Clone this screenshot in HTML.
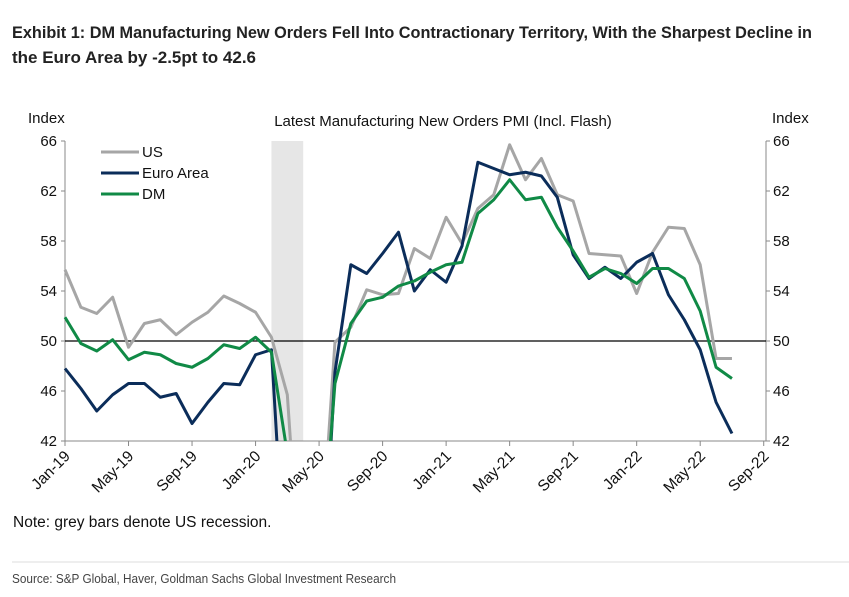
<!DOCTYPE html>
<html style="margin:0;overflow:hidden"><head><meta charset="utf-8"><style>
html,body{margin:0;padding:0;background:#fff;width:849px;height:597px;overflow:hidden}
svg{display:block}
text{font-family:"Liberation Sans",Arial,sans-serif}
</style></head><body>
<svg id="chart" width="849" height="597" xmlns="http://www.w3.org/2000/svg">
<text x="12" y="38" font-size="16.5" font-weight="bold" fill="#222" textLength="800" lengthAdjust="spacingAndGlyphs">Exhibit 1: DM Manufacturing New Orders Fell Into Contractionary Territory, With the Sharpest Decline in</text>
<text x="12" y="63" font-size="16.5" font-weight="bold" fill="#222" textLength="244" lengthAdjust="spacingAndGlyphs">the Euro Area by -2.5pt to 42.6</text>
<text x="443" y="126" font-size="15" text-anchor="middle" fill="#111">Latest Manufacturing New Orders PMI (Incl. Flash)</text>
<text x="28" y="123" font-size="15" fill="#111">Index</text>
<text x="772" y="123" font-size="15" fill="#111">Index</text>
<defs><clipPath id="plotclip"><rect x="60" y="130" width="720" height="311"/></clipPath></defs>
<g id="recess"></g>
<g id="axes"></g>
<g id="series" clip-path="url(#plotclip)"></g>
<g id="legend"></g>
<text x="13" y="527" font-size="15.5" fill="#111">Note: grey bars denote US recession.</text>
<line x1="12" y1="562" x2="849" y2="562" stroke="#ddd" stroke-width="1"/>
<text x="12" y="583" font-size="12.5" fill="#444" textLength="384" lengthAdjust="spacingAndGlyphs">Source: S&amp;P Global, Haver, Goldman Sachs Global Investment Research</text>
</svg>
<script>
const months = 43; // Jan-19 .. Jul-22
const xTickLabels = ["Jan-19","May-19","Sep-19","Jan-20","May-20","Sep-20","Jan-21","May-21","Sep-21","Jan-22","May-22","Sep-22"];
const yTicks = [42,46,50,54,58,62,66];
const usValues = [55.7,52.7,52.2,53.5,49.5,51.4,51.7,50.5,51.5,52.3,53.6,53.0,52.3,50.3,45.7,27.0,31.0,49.9,51.1,54.1,53.7,53.8,57.4,56.6,59.9,57.8,60.6,61.7,65.7,62.9,64.6,61.7,61.2,57.0,56.9,56.8,53.8,57.1,59.1,59.0,56.1,48.6,48.6];
const euroValues = [47.8,46.2,44.4,45.7,46.6,46.6,45.5,45.8,43.4,45.1,46.6,46.5,48.9,49.3,28.0,12.0,25.0,47.5,56.1,55.4,57.0,58.7,54.0,55.7,54.7,57.6,64.3,63.8,63.3,63.5,63.2,61.5,56.9,55.0,55.9,55.0,56.3,57.0,53.7,51.7,49.3,45.1,42.6];
const dmValues = [51.9,49.8,49.2,50.1,48.5,49.1,48.9,48.2,47.9,48.6,49.7,49.4,50.3,49.1,41.0,20.0,30.0,46.6,51.4,53.2,53.5,54.4,54.8,55.5,56.1,56.3,60.2,61.3,62.9,61.3,61.5,59.1,57.2,55.1,55.8,55.4,54.6,55.8,55.8,55.0,52.4,47.9,47.0];
const recession = [13, 15]; // month indices Feb-20 .. Apr-20

const NS="http://www.w3.org/2000/svg";
const X0=65, DX=15.88, Y42=441, PXU=12.5;
const xs = i => X0 + i*DX;
const ys = v => Y42 - (v-42)*PXU;
function mk(tag, attrs, parent){const e=document.createElementNS(NS,tag);for(const k in attrs)e.setAttribute(k,attrs[k]);parent.appendChild(e);return e;}

const rg=document.getElementById('recess');
const rb=mk('rect',{x:xs(recession[0]),y:141,width:xs(recession[1])-xs(recession[0]),height:300,fill:'#e6e6e6'},rg);



const ax=document.getElementById('axes');
let l=mk('line',{x1:X0,y1:141,x2:X0,y2:441,stroke:'#888','stroke-width':1},ax);


l=mk('line',{x1:766,y1:141,x2:766,y2:441,stroke:'#888','stroke-width':1},ax);


l=mk('line',{x1:X0,y1:441,x2:766,y2:441,stroke:'#888','stroke-width':1},ax);


l=mk('line',{x1:X0,y1:ys(50),x2:766,y2:ys(50),stroke:'#000','stroke-width':1.3},ax);


yTicks.forEach(v=>{
  const y=ys(v);
  mk('line',{x1:X0-4,y1:y,x2:X0,y2:y,stroke:'#888'},ax);
  mk('line',{x1:766,y1:y,x2:770,y2:y,stroke:'#888'},ax);
  let t=mk('text',{x:X0-8,y:y+5,'font-size':15,'text-anchor':'end',fill:'#111'},ax);t.textContent=v;
  
  
  t=mk('text',{x:773,y:y+5,'font-size':15,fill:'#111'},ax);t.textContent=v;
  
  
});
xTickLabels.forEach((s,k)=>{
  const x=xs(k*4);
  mk('line',{x1:x,y1:441,x2:x,y2:446,stroke:'#888'},ax);
  const t=mk('text',{x:x+6,y:457,'font-size':15.5,'text-anchor':'end',fill:'#111',transform:`rotate(-45 ${x+6} 457)`},ax);
  t.textContent=s;
  
  
});

const sg=document.getElementById('series');
function line(vals,color,name){
  const p=mk('polyline',{points:vals.map((v,i)=>xs(i)+','+ys(v)).join(' '),fill:'none',stroke:color,'stroke-width':3,'stroke-linejoin':'round'},sg);
  
  
}
line(usValues,'#a6a6a6','us-line');
line(euroValues,'#0b2d5a','euro-area-line');
line(dmValues,'#108a46','dm-line');

const lg=document.getElementById('legend');
[['US','#a6a6a6',152],['Euro Area','#0b2d5a',173],['DM','#108a46',194]].forEach(([n,c,y])=>{
  const ln=mk('line',{x1:101,y1:y,x2:139,y2:y,stroke:c,'stroke-width':3},lg);
  
  
  const t=mk('text',{x:142,y:y+5,'font-size':15,fill:'#111'},lg);t.textContent=n;
  
  
});
</script>
</body></html>
